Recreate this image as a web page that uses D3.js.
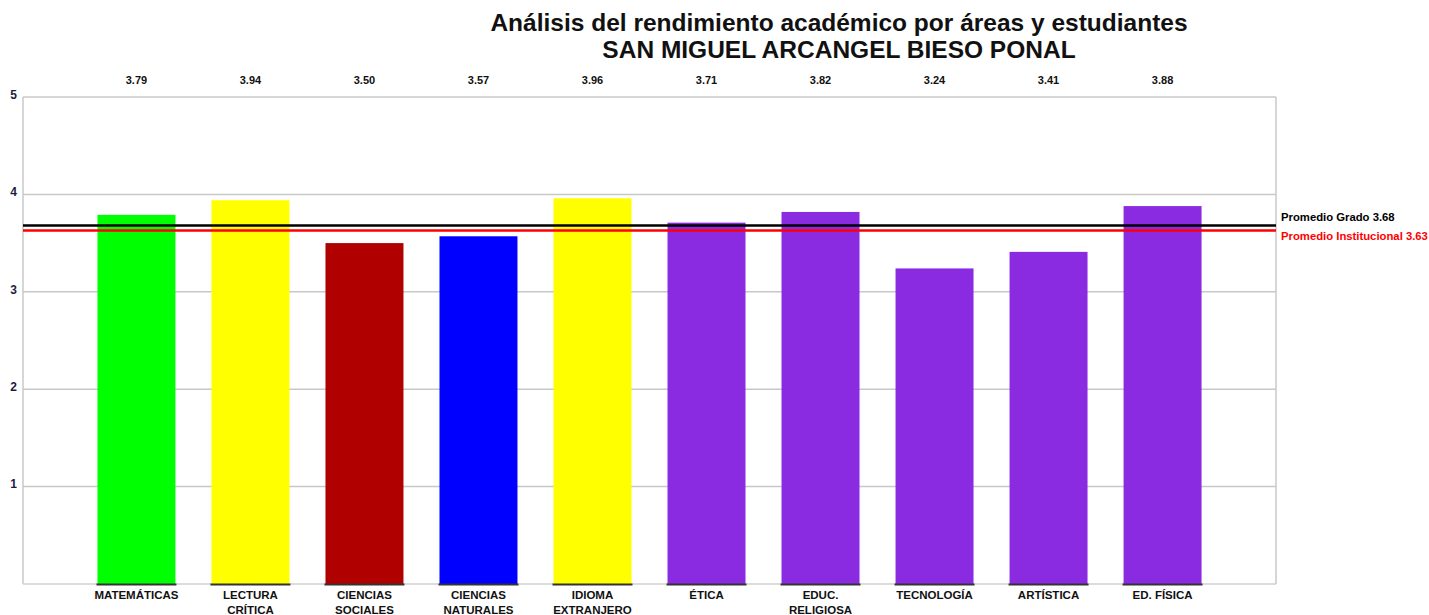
<!DOCTYPE html>
<html>
<head>
<meta charset="utf-8">
<script src="https://cdn.jsdelivr.net/npm/d3@7"></script>
<style>
  body { margin: 0; background: #fff; }
  svg { display: block; font-family: "Liberation Sans", Arial, sans-serif; }
  .grid line { stroke: #c8c8c8; stroke-width: 1.5; }
  .tick-label { font-size: 12px; font-weight: bold; fill: #1c1c40; }
  .val-label { font-size: 11px; font-weight: bold; fill: #111; }
  .cat-label { font-size: 11.5px; font-weight: bold; fill: #111; }
</style>
</head>
<body>
<svg width="1429" height="615"></svg>
<script>
// chart values
var categories = [
  ["MATEMÁTICAS"], ["LECTURA", "CRÍTICA"], ["CIENCIAS", "SOCIALES"], ["CIENCIAS", "NATURALES"],
  ["IDIOMA", "EXTRANJERO"], ["ÉTICA"], ["EDUC.", "RELIGIOSA"], ["TECNOLOGÍA"], ["ARTÍSTICA"], ["ED. FÍSICA"]
];
var scores = [3.79, 3.94, 3.50, 3.57, 3.96, 3.71, 3.82, 3.24, 3.41, 3.88];
var yTicks = [1, 2, 3, 4, 5];
var promedioGrado = 3.68;
var promedioInstitucional = 3.63;
var barColors = ["#00ff00", "#ffff00", "#b00000", "#0000ff", "#ffff00",
                 "#8a2be2", "#8a2be2", "#8a2be2", "#8a2be2", "#8a2be2"];

var svg = d3.select("svg"),
    margin = {top: 97, right: 153, bottom: 31, left: 23},
    width = +svg.attr("width") - margin.left - margin.right,
    height = +svg.attr("height") - margin.top - margin.bottom;

var keys = categories.map(function(d) { return d.join(" "); });

var x = d3.scaleBand()
    .domain(keys)
    .range([0, width])
    .paddingInner(0.316)
    .paddingOuter(0.653);

var y = d3.scaleLinear().domain([0, 5]).range([height, 0]);

var color = d3.scaleOrdinal().domain(keys).range(barColors);

var g = svg.append("g")
    .attr("transform", "translate(" + margin.left + "," + margin.top + ")");

// grid lines
g.append("g").attr("class", "grid")
  .selectAll("line")
  .data(yTicks)
  .enter().append("line")
    .attr("x1", 0).attr("x2", width)
    .attr("y1", function(d) { return y(d); })
    .attr("y2", function(d) { return y(d); });

// plot frame: left, right, bottom
g.append("line").attr("x1", 0).attr("x2", 0).attr("y1", 0).attr("y2", height)
  .attr("stroke", "#c8c8c8").attr("stroke-width", 1.5);
g.append("line").attr("x1", width).attr("x2", width).attr("y1", 0).attr("y2", height)
  .attr("stroke", "#c8c8c8").attr("stroke-width", 1.5);
g.append("line").attr("x1", 0).attr("x2", width).attr("y1", height).attr("y2", height)
  .attr("stroke", "#d0d0d0").attr("stroke-width", 1.5);

// y tick labels
g.selectAll(".tick-label")
  .data(yTicks)
  .enter().append("text")
    .attr("class", "tick-label")
    .attr("x", -6)
    .attr("y", function(d) { return y(d); })
    .attr("dy", "0.15em")
    .attr("text-anchor", "end")
    .text(function(d) { return d; });

// bars
g.selectAll(".bar")
  .data(scores)
  .enter().append("rect")
    .attr("class", "bar")
    .attr("x", function(d, i) { return x(keys[i]); })
    .attr("width", x.bandwidth())
    .attr("y", function(d) { return y(d); })
    .attr("height", function(d) { return height - y(d); })
    .attr("fill", function(d, i) { return color(keys[i]); });

// dark base under each bar
g.selectAll(".base")
  .data(scores)
  .enter().append("line")
    .attr("class", "base")
    .attr("x1", function(d, i) { return x(keys[i]) - 1; })
    .attr("x2", function(d, i) { return x(keys[i]) + x.bandwidth() + 1; })
    .attr("y1", height + 0.5).attr("y2", height + 0.5)
    .attr("stroke", "#333").attr("stroke-width", 2);

// value labels on top
g.selectAll(".val-label")
  .data(scores)
  .enter().append("text")
    .attr("class", "val-label")
    .attr("x", function(d, i) { return x(keys[i]) + x.bandwidth() / 2; })
    .attr("y", -13)
    .attr("text-anchor", "middle")
    .text(function(d) { return d.toFixed(2); });

// category labels
var cat = g.selectAll(".cat-label")
  .data(categories)
  .enter().append("text")
    .attr("class", "cat-label")
    .attr("text-anchor", "middle")
    .attr("transform", function(d, i) {
      return "translate(" + (x(keys[i]) + x.bandwidth() / 2) + "," + (height + 15) + ")";
    });
cat.selectAll("tspan")
  .data(function(d) { return d; })
  .enter().append("tspan")
    .attr("x", 0)
    .attr("y", function(d, i) { return i * 14.5; })
    .text(function(d) { return d; });

// average lines
g.append("line")
  .attr("x1", 0).attr("x2", width)
  .attr("y1", y(promedioInstitucional)).attr("y2", y(promedioInstitucional))
  .attr("stroke", "#ff0000").attr("stroke-width", 2.5);
g.append("line")
  .attr("x1", 0).attr("x2", width)
  .attr("y1", y(promedioGrado)).attr("y2", y(promedioGrado))
  .attr("stroke", "#000").attr("stroke-width", 2.5);

g.append("text")
  .attr("x", width + 5).attr("y", y(promedioGrado) - 5)
  .attr("font-size", "11.3px").attr("font-weight", "bold").attr("fill", "#000")
  .text("Promedio Grado " + promedioGrado.toFixed(2));
g.append("text")
  .attr("x", width + 5).attr("y", y(promedioInstitucional) + 10)
  .attr("font-size", "11.3px").attr("font-weight", "bold").attr("fill", "#ff0000")
  .text("Promedio Institucional " + promedioInstitucional.toFixed(2));

// title
var title = svg.append("text")
  .attr("text-anchor", "middle")
  .attr("font-size", "24.5px").attr("font-weight", "bold").attr("fill", "#111");
title.append("tspan").attr("x", 839).attr("y", 31)
  .text("Análisis del rendimiento académico por áreas y estudiantes");
title.append("tspan").attr("x", 839).attr("y", 58)
  .text("SAN MIGUEL ARCANGEL BIESO PONAL");
</script>
</body>
</html>
